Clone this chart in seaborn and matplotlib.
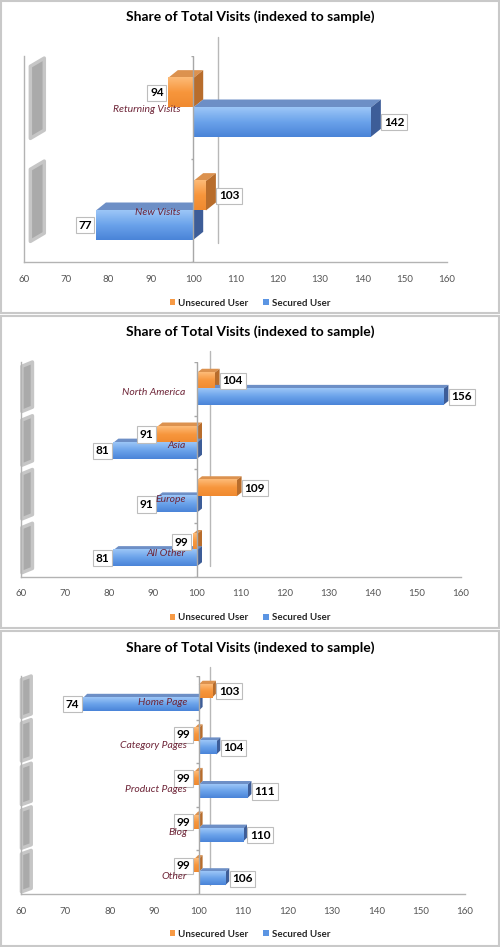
import numpy as np
import pandas as pd
import matplotlib
matplotlib.use("Agg")
import matplotlib.pyplot as plt
import seaborn as sns
from matplotlib.patches import Patch, Polygon, Rectangle
from matplotlib.transforms import ScaledTranslation, IdentityTransform
from matplotlib.colors import LinearSegmentedColormap

# --- data ---
visit_types = ["Returning Visits", "New Visits"]
visit_unsecured = [94, 103]
visit_secured = [142, 77]

regions = ["North America", "Asia", "Europe", "All Other"]
region_unsecured = [104, 91, 109, 99]
region_secured = [156, 81, 91, 81]

pages = ["Home Page", "Category Pages", "Product Pages", "Blog", "Other"]
page_unsecured = [103, 99, 99, 99, 99]
page_secured = [74, 104, 111, 110, 106]

series_names = ["Unsecured User", "Secured User"]
chart_title = "Share of Total Visits (indexed to sample)"
x_ticks = list(range(60, 161, 10))
BASE = 100  # index baseline, bars grow from here

# --- styling ---
sns.set_theme(style="white")
plt.rcParams["font.family"] = ["Lato", "DejaVu Sans"]

ORANGE = "#f79a45"
BLUE = "#5b95e3"
orange_grad = LinearSegmentedColormap.from_list("og", ["#fdbb78", "#f7963c", "#f08a30"])
blue_grad = LinearSegmentedColormap.from_list("bg", ["#9cc6f7", "#6aa2ea", "#4a84d8"])
face_colors = {  # (top face, side face)
    "Unsecured User": ("#dc924f", "#b86d2c"),
    "Secured User": ("#6d8fc6", "#3d5d98"),
}
CAT_COLOR = "#6e2538"
AXIS_GRAY = "#b3b3b3"

W, H = 500, 947
fig = plt.figure(figsize=(W / 100, H / 100), dpi=100, facecolor="white")


def fx(px):
    return px / W


def fy(py):
    return 1 - py / H


panels = [
    dict(cats=visit_types, unsec=visit_unsecured, sec=visit_secured,
         box=(24, 56, 447, 262), width=0.57, depth=(10, 8), back=(25, 19),
         wall=(61.5, 64.8, 0.02, 0.8), label_x=97.0, label_dy=0.02,
         title_y=17, legend_y=303, frame=(1, 1, 499, 313)),
    dict(cats=regions, unsec=region_unsecured, sec=region_secured,
         box=(21, 362, 461, 577), width=0.6, depth=(5, 4), back=(13, 11),
         wall=(60.2, 62.6, 0.0, 0.92), label_x=97.4, label_dy=0.06,
         title_y=332, legend_y=618, frame=(1, 316, 499, 628)),
    dict(cats=pages, unsec=page_unsecured, sec=page_secured,
         box=(21, 676, 465, 894), width=0.6, depth=(4, 4), back=(11, 9),
         wall=(60.1, 62.3, 0.0, 0.95), label_x=97.4, label_dy=0.1,
         title_y=648, legend_y=934, frame=(1, 631, 499, 946)),
]

for spec in panels:
    cats = spec["cats"]
    n = len(cats)
    left, top, right, bottom = spec["box"]
    ax = fig.add_axes([fx(left), fy(bottom), fx(right - left), (bottom - top) / H])

    df = pd.DataFrame({
        "category": cats * 2,
        "series": [series_names[0]] * n + [series_names[1]] * n,
        "value": spec["unsec"] + spec["sec"],
    })
    df["delta"] = df["value"] - BASE

    sns.barplot(data=df, y="category", x="delta", hue="series", hue_order=series_names,
                palette=[ORANGE, BLUE], width=spec["width"], orient="h", ax=ax,
                legend=False, saturation=1, linewidth=0, errorbar=None)

    # move bars onto the index baseline
    for container in ax.containers:
        for bar in container:
            bar.set_x(bar.get_x() + BASE)

    ax.set_xlim(60, 160)
    ax.set_ylim(n - 0.5, -0.5)
    ax.set_xticks(x_ticks)
    ax.set_yticks([])
    ax.set_xlabel("")
    ax.set_ylabel("")
    for s in ["top", "right"]:
        ax.spines[s].set_visible(False)
    for s in ["left", "bottom"]:
        ax.spines[s].set_color(AXIS_GRAY)
        ax.spines[s].set_linewidth(1)
    ax.tick_params(axis="x", direction="out", length=4, width=1, color=AXIS_GRAY,
                   labelsize=7, labelcolor="#555555", pad=5)

    # 100 axis and its back-wall copy
    ax.axvline(BASE, color="#a8a8a8", lw=1, zorder=4)
    back = ax.axvline(BASE, color="#b8b8b8", lw=1, zorder=1)
    bdx, bdy = spec["back"]
    back.set_transform(back.get_transform() + ScaledTranslation(bdx / 100, bdy / 100, fig.dpi_scale_trans))
    back.set_clip_on(False)
    ax.hlines(np.arange(n + 1) - 0.5, BASE - 0.6, BASE, color="#a8a8a8", lw=1, zorder=4)

    # grey floor pieces on the left
    xl, xr, f0, f1 = spec["wall"]
    for i in range(n):
        y_top = i - 0.5 + f0
        y_bot = i - 0.5 + f1
        s = 0.08
        ax.add_patch(Polygon([(xl, y_top + s), (xr, y_top), (xr, y_bot - s), (xl, y_bot)],
                             closed=True, fc="#aaaaaa", ec="#c6c6c6", lw=2.5,
                             joinstyle="round", zorder=1, clip_on=False))

    # gradient fronts and fake 3D faces
    dx, dy = spec["depth"]
    grads = [orange_grad, blue_grad]
    for container, name, cmap in zip(ax.containers, series_names, grads):
        top_c, side_c = face_colors[name]
        for bar in container:
            x0, x1 = sorted([bar.get_x(), bar.get_x() + bar.get_width()])
            y0, y1 = sorted([bar.get_y(), bar.get_y() + bar.get_height()])
            bar.set_zorder(2.8)
            ax.imshow(np.linspace(0, 1, 64).reshape(-1, 1), extent=[x0, x1, y1, y0],
                      origin="upper", cmap=cmap, aspect="auto", interpolation="bilinear",
                      zorder=3)
            (X0, Ya), (X1, Yb) = ax.transData.transform([(x0, y0), (x1, y1)])
            t, b = max(Ya, Yb), min(Ya, Yb)
            ax.add_patch(Polygon([(X0, t), (X1, t), (X1 + dx, t + dy), (X0 + dx, t + dy)],
                                 closed=True, fc=top_c, ec="none", zorder=2.5,
                                 transform=IdentityTransform(), clip_on=False))
            ax.add_patch(Polygon([(X1, b), (X1, t), (X1 + dx, t + dy), (X1 + dx, b + dy)],
                                 closed=True, fc=side_c, ec="none", zorder=2.5,
                                 transform=IdentityTransform(), clip_on=False))

            value = round(bar.get_x() + bar.get_width())
            yc = (y0 + y1) / 2
            if value >= BASE:
                off, ha = (dx + 3) * 0.72, "left"
            else:
                off, ha = -3, "right"
            ax.annotate(f"{value}", xy=(value, yc), xytext=(off, 0), textcoords="offset points",
                        ha=ha, va="center", fontsize=8.5, fontweight="bold", color="black",
                        bbox=dict(boxstyle="square,pad=0.22", fc="white", ec="#bdbdbd", lw=0.8),
                        zorder=6)

    ax.set_xlim(60, 160)
    ax.set_ylim(n - 0.5, -0.5)

    # category names sit inside the plot, left of the 100 axis
    for i, cat in enumerate(cats):
        ax.text(spec["label_x"], i + spec["label_dy"], cat, ha="right", va="center",
                style="italic", fontsize=7.5, color=CAT_COLOR, zorder=7)

    fig.text(0.5, fy(spec["title_y"]), chart_title, ha="center", va="center",
             fontsize=10, fontweight="bold", color="black")
    handles = [Patch(fc=ORANGE, ec="none"), Patch(fc=BLUE, ec="none")]
    fig.legend(handles, series_names, loc="center", bbox_to_anchor=(0.5, fy(spec["legend_y"])),
               ncol=2, frameon=False, prop={"weight": "bold", "size": 7},
               handlelength=0.6, handleheight=0.6, handletextpad=0.3, columnspacing=1.5)

    fl, ft, fr, fb = spec["frame"]
    fig.patches.append(Rectangle((fx(fl), fy(fb)), fx(fr - fl), (fb - ft) / H,
                                 transform=fig.transFigure, fill=False,
                                 ec="#c9c9c9", lw=1.5))

fig.savefig("out.png", dpi=100, facecolor="white")
